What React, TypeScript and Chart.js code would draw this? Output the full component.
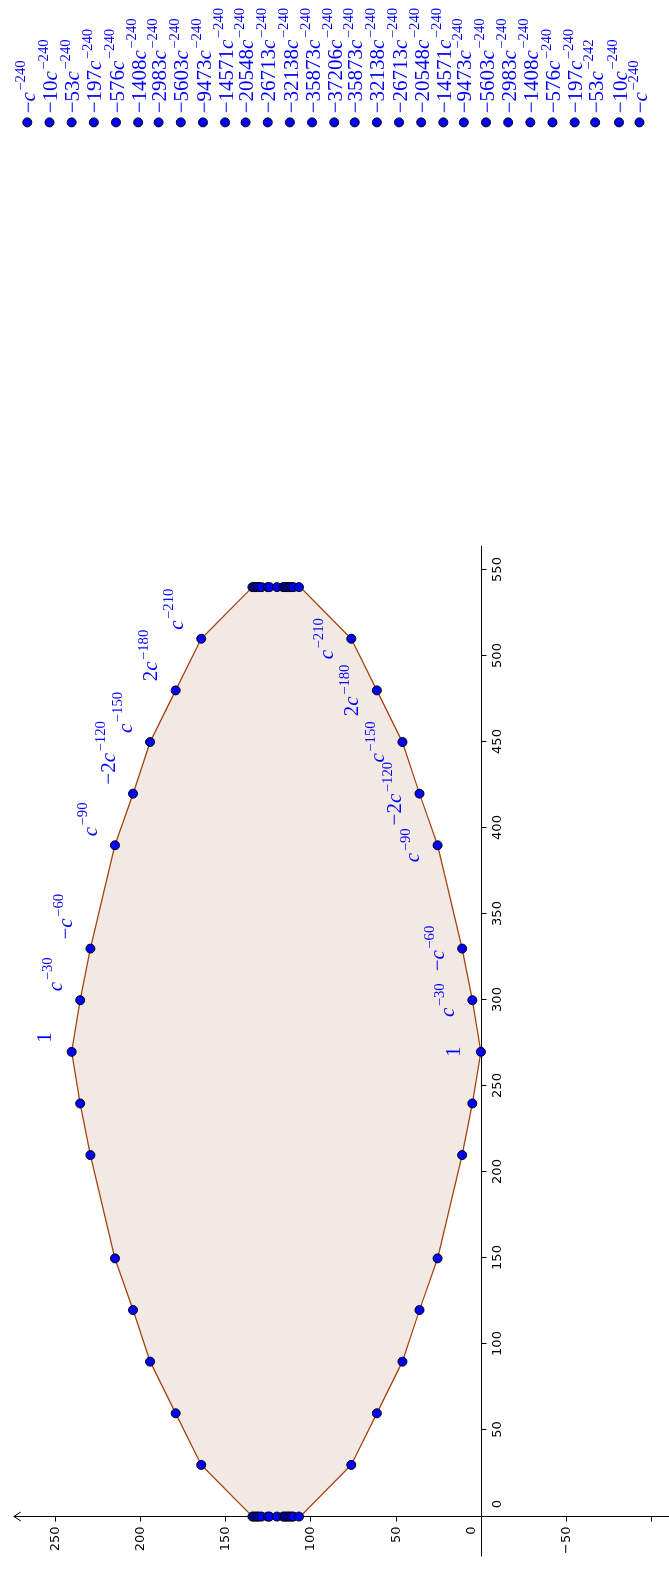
import React, { useEffect, useRef } from 'react';
import { Chart, registerables } from 'chart.js';

Chart.register(...registerables);

// ---- data ----
const hullX = [0, 30, 60, 90, 120, 150, 210, 240, 270, 300, 330, 390, 420, 450, 480, 510, 540];
const upperY = [134, 164, 179, 194, 204, 214.6, 229, 235, 240, 235, 229, 214.6, 204, 194, 179, 164, 134];
const lowerY = [106, 76, 61, 46, 36, 25.4, 11, 5, 0, 5, 11, 25.4, 36, 46, 61, 76, 106];

const clusterX = [0, 540];
const clusterY = [134, 133, 132, 131, 130, 128.6, 125, 124, 119.6, 116, 115, 114, 113, 112, 111, 110, 106.7];

const hullLabelX = [270, 300, 330, 390, 420, 450, 480, 510];
const hullLabelBase = ['1', 'c', '\u2212c', 'c', '\u22122c', 'c', '2c', 'c'];
const hullLabelSup = ['', '\u221230', '\u221260', '\u221290', '\u2212120', '\u2212150', '\u2212180', '\u2212210'];

const columnX = 810;
const columnY = [266, 253, 240, 227, 214, 201, 189, 176, 163, 150, 138, 125, 112, 99, 86, 74, 61, 48, 35, 22, 10, -3, -16, -29, -42, -55, -67, -81, -93];
const columnCoef = ['\u2212', '\u221210', '\u221253', '\u2212197', '\u2212576', '\u22121408', '\u22122983', '\u22125603', '\u22129473', '\u221214571', '\u221220548', '\u221226713', '\u221232138', '\u221235873', '\u221237206', '\u221235873', '\u221232138', '\u221226713', '\u221220548', '\u221214571', '\u22129473', '\u22125603', '\u22122983', '\u22121408', '\u2212576', '\u2212197', '\u221253', '\u221210', '\u2212'];
const columnExp = ['\u2212240', '\u2212240', '\u2212240', '\u2212240', '\u2212240', '\u2212240', '\u2212240', '\u2212240', '\u2212240', '\u2212240', '\u2212240', '\u2212240', '\u2212240', '\u2212240', '\u2212240', '\u2212240', '\u2212240', '\u2212240', '\u2212240', '\u2212240', '\u2212240', '\u2212240', '\u2212240', '\u2212240', '\u2212240', '\u2212240', '\u2212242', '\u2212240', '\u2212240'];

const xTicks = [0, 50, 100, 150, 200, 250, 300, 350, 400, 450, 500, 550];
const xTickLabels = ['0', '50', '100', '150', '200', '250', '300', '350', '400', '450', '500', '550'];
const yTicks = [-100, -50, 0, 50, 100, 150, 200, 250];
const yTickLabels = ['', '\u221250', '0', '50', '100', '150', '200', '250'];

// ---- layout / style ----
const W = 1571;
const H = 669;
const X_MIN = -28.44;
const X_MAX = 877.9;
const Y_MIN = -107.1;
const Y_MAX = 278.8;
const X_AXIS_FROM = -23.2;
const X_AXIS_TO = 564;
const Y_AXIS_TOP = 273.9;

const SERIF = '"Liberation Serif", "DejaVu Serif", serif';
const SANS = '"DejaVu Sans", sans-serif';
const LABEL_BLUE = '#0000ff';

function drawMath(ctx: CanvasRenderingContext2D, base: string, sup: string, x: number, centerY: number, align: 'left' | 'center') {
  const baseSize = 21;
  const supSize = 14.7;
  const raise = 9.5;
  const segs: { ch: string; font: string; dx: number; dy: number }[] = [];
  let w = 0;
  for (const ch of base) {
    const font = (ch === 'c' ? 'italic ' : '') + baseSize + 'px ' + SERIF;
    ctx.font = font;
    const cw = ctx.measureText(ch).width;
    segs.push({ ch, font, dx: w, dy: 0 });
    w += cw;
  }
  if (sup) {
    w += 1.5;
    for (const ch of sup) {
      const font = supSize + 'px ' + SERIF;
      ctx.font = font;
      const cw = ctx.measureText(ch).width;
      segs.push({ ch, font, dx: w, dy: -raise });
      w += cw;
    }
  }
  const boxH = sup ? raise + 0.66 * supSize : 0.66 * baseSize;
  const baseline = centerY + boxH / 2;
  const startX = align === 'center' ? x - w / 2 : x;
  ctx.textAlign = 'left';
  ctx.textBaseline = 'alphabetic';
  for (const s of segs) {
    ctx.font = s.font;
    ctx.fillText(s.ch, startX + s.dx, baseline + s.dy);
  }
}

const axesPlugin = {
  id: 'sageAxes',
  beforeDatasetsDraw(chart: any) {
    const ctx: CanvasRenderingContext2D = chart.ctx;
    const xs = chart.scales.x;
    const ys = chart.scales.y;
    const x0 = Math.round(xs.getPixelForValue(0)) + 0.5;
    const y0 = Math.round(ys.getPixelForValue(0)) + 0.5;
    ctx.save();
    ctx.strokeStyle = '#000';
    ctx.fillStyle = '#000';
    ctx.lineWidth = 1;
    // x axis line
    ctx.beginPath();
    ctx.moveTo(xs.getPixelForValue(X_AXIS_FROM), y0);
    ctx.lineTo(xs.getPixelForValue(X_AXIS_TO), y0);
    ctx.stroke();
    // y axis line
    const yTop = ys.getPixelForValue(Y_AXIS_TOP);
    ctx.beginPath();
    ctx.moveTo(x0, H);
    ctx.lineTo(x0, yTop);
    ctx.stroke();
    // arrow head
    ctx.beginPath();
    ctx.moveTo(x0 - 4.5, yTop + 7);
    ctx.lineTo(x0, yTop);
    ctx.lineTo(x0 + 4.5, yTop + 7);
    ctx.stroke();
    // x ticks
    ctx.font = '13px ' + SANS;
    ctx.textBaseline = 'top';
    ctx.textAlign = 'center';
    xTicks.forEach((t, i) => {
      const px = Math.round(xs.getPixelForValue(t)) + 0.5;
      ctx.beginPath();
      ctx.moveTo(px, y0);
      ctx.lineTo(px, y0 + 5);
      ctx.stroke();
      const shift = t === 0 ? 12.5 : 0;
      ctx.fillText(xTickLabels[i], px + shift, y0 + 9.5);
    });
    // y ticks
    ctx.textAlign = 'right';
    ctx.textBaseline = 'middle';
    yTicks.forEach((t, i) => {
      const py = Math.round(ys.getPixelForValue(t)) + 0.5;
      ctx.beginPath();
      ctx.moveTo(x0, py);
      ctx.lineTo(x0 - 5, py);
      ctx.stroke();
      const shift = t === 0 ? -10 : 0;
      if (yTickLabels[i]) ctx.fillText(yTickLabels[i], x0 - 10, py + shift);
    });
    ctx.restore();
  },
};

const labelsPlugin = {
  id: 'mathLabels',
  afterDatasetsDraw(chart: any) {
    const ctx: CanvasRenderingContext2D = chart.ctx;
    const xs = chart.scales.x;
    const ys = chart.scales.y;
    ctx.save();
    ctx.fillStyle = LABEL_BLUE;
    hullLabelX.forEach((x, i) => {
      const k = hullX.indexOf(x);
      const px = xs.getPixelForValue(x);
      const pu = ys.getPixelForValue(upperY[k]);
      const pl = ys.getPixelForValue(lowerY[k]);
      drawMath(ctx, hullLabelBase[i], hullLabelSup[i], px + 9, pu - 28, 'left');
      drawMath(ctx, hullLabelBase[i], hullLabelSup[i], px, pl - 28, 'center');
    });
    const cpx = xs.getPixelForValue(columnX);
    columnY.forEach((y, i) => {
      const py = ys.getPixelForValue(y);
      drawMath(ctx, columnCoef[i] + 'c', columnExp[i], cpx + 9, py - 2, 'left');
    });
    ctx.restore();
  },
};

export default function App() {
  const ref = useRef<HTMLCanvasElement>(null);

  useEffect(() => {
    const canvas = ref.current;
    if (!canvas) return;

    const polygon = [
      ...hullX.map((x, i) => ({ x, y: upperY[i] })),
      ...hullX.map((x, i) => ({ x, y: lowerY[i] })).reverse(),
      { x: hullX[0], y: upperY[0] },
    ];
    const hullPoints: { x: number; y: number }[] = [];
    hullX.forEach((x, i) => {
      if (clusterX.indexOf(x) < 0) {
        hullPoints.push({ x, y: upperY[i] });
        hullPoints.push({ x, y: lowerY[i] });
      }
    });
    clusterX.forEach((x) => clusterY.forEach((y) => hullPoints.push({ x, y })));
    const column = columnY.map((y) => ({ x: columnX, y }));

    const pointStyle = {
      pointRadius: 4.5,
      pointBorderWidth: 1,
      pointBackgroundColor: '#0000ff',
      pointBorderColor: '#000000',
      backgroundColor: '#0000ff',
      borderColor: '#000000',
      showLine: false,
    };

    const chart = new Chart(canvas, {
      type: 'scatter',
      data: {
        datasets: [
          { data: hullPoints, order: 0, ...pointStyle } as any,
          { data: column, order: 1, ...pointStyle } as any,
          {
            data: polygon,
            order: 2,
            showLine: true,
            fill: 'shape',
            backgroundColor: '#f3e9e4',
            borderColor: '#a4420c',
            borderWidth: 1.3,
            pointRadius: 0,
            tension: 0,
          } as any,
        ],
      },
      options: {
        animation: false,
        responsive: false,
        maintainAspectRatio: false,
        events: [],
        layout: { padding: 0 },
        plugins: {
          legend: { display: false },
          tooltip: { enabled: false },
          title: { display: false },
        },
        scales: {
          x: { type: 'linear', min: X_MIN, max: X_MAX, display: false },
          y: { type: 'linear', min: Y_MIN, max: Y_MAX, display: false },
        },
      },
      plugins: [axesPlugin, labelsPlugin],
    });
    return () => chart.destroy();
  }, []);

  return (
    <div style={{ position: 'absolute', left: 0, top: 0, width: H, height: W, overflow: 'hidden', background: '#fff' }}>
      <div
        style={{
          position: 'absolute',
          left: 0,
          top: 0,
          width: W,
          height: H,
          transformOrigin: '0 0',
          transform: `translate(0px, ${W}px) rotate(-90deg)`,
        }}
      >
        <canvas ref={ref} width={W} height={H} style={{ display: 'block', width: W, height: H }} />
      </div>
    </div>
  );
}
